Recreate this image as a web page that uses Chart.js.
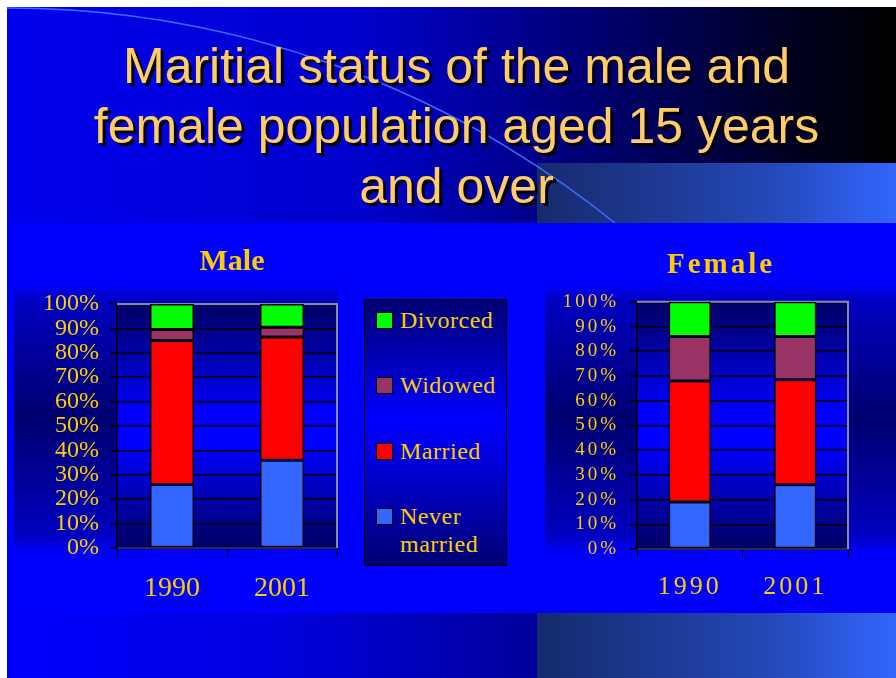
<!DOCTYPE html>
<html>
<head>
<meta charset="utf-8">
<title>Maritial status of the male and female population aged 15 years and over</title>
<script src="https://cdn.jsdelivr.net/npm/chart.js@4.4.0/dist/chart.umd.min.js"></script>
<style>
  html, body { margin: 0; padding: 0; }
  body { width: 896px; height: 678px; position: relative; overflow: hidden; background: #fff; }
  .bg { position: absolute; }
  #bandTop { left: 7px; top: 7px; width: 889px; height: 216px;
    background: linear-gradient(to right, #0000ee 0%, #0000cc 40%, #000080 62%, #000020 88%, #000 100%); }
  #rectTop { left: 537px; top: 163px; width: 359px; height: 60px;
    background: linear-gradient(to right, #172a6c, #2448b8 65%, #3366ff); }
  #arc { position: absolute; left: 0; top: 0; }
  #bandMid { left: 7px; top: 223px; width: 889px; height: 390px; background: #0000ff; }
  #shadeMale { left: 14px; top: 282px; width: 324px; height: 272px; }
  #shadeFemale { left: 545px; top: 282px; width: 351px; height: 272px; }
  .shade { background: linear-gradient(#0000ff 0%, #0000c0 7%, #000070 50%, #0000c0 93%, #0000ff 100%); }
  #bandBotLeft { left: 7px; top: 613px; width: 530px; height: 65px;
    background: linear-gradient(to right, #0000ff, #0000e0 50%, #00009a); }
  #bandBotRight { left: 537px; top: 613px; width: 359px; height: 65px;
    background: linear-gradient(to right, #142a6c, #2448b8 65%, #3366ff); }
  #title { position: absolute; left: 0; top: 36px; width: 913px; text-align: center;
    font: 50px/60px 'Liberation Sans', Arial, sans-serif; color: #ffcc66;
    text-shadow: 3px 3px 0 #000; }
  canvas { position: absolute; }
  #maleChart { left: 14px; top: 236px; }
  #femaleChart { left: 545px; top: 236px; }
  #legend { position: absolute; left: 364px; top: 299px; width: 141px; height: 265px;
    border: 1px solid #000;
    background: linear-gradient(#000074 0%, #0000e8 38%, #0000ff 45%, #0000d0 65%, #000074 100%); }
  .item { position: absolute; left: 11px; display: flex; align-items: flex-start; }
  .swatch { width: 15px; height: 15px; border: 1px solid #000; margin-top: 6px; }
  .label { margin-left: 7px; width: 100px; font: 24px/28px 'Liberation Serif', 'Times New Roman', serif;
    color: #ffcc00; letter-spacing: 0.5px; }
</style>
</head>
<body>
<div class="bg" id="bandTop"></div>
<div class="bg" id="rectTop"></div>
<svg id="arc" width="896" height="678">
  <path d="M 7 8 A 967 967 0 0 1 615 223" fill="none" stroke="#3a6cff" stroke-width="1.5"/>
</svg>
<div class="bg" id="bandMid"></div>
<div class="bg shade" id="shadeMale"></div>
<div class="bg shade" id="shadeFemale"></div>
<div class="bg" id="bandBotLeft"></div>
<div class="bg" id="bandBotRight"></div>
<div id="title">Maritial status of the male and<br>female population aged 15 years<br>and over</div>
<canvas id="maleChart" width="436" height="380"></canvas>
<canvas id="femaleChart" width="352" height="380"></canvas>
<div id="legend"></div>
<script>
const years = ['1990', '2001'];
const statuses = ['Never married', 'Married', 'Widowed', 'Divorced'];
const statusColors = ['#3366ff', '#ff0000', '#993366', '#00ff00'];

// percent of each group, per census year
const maleNeverMarried = [26, 36];
const maleMarried = [59, 50.5];
const maleWidowed = [4.5, 4];
const maleDivorced = [10.5, 9.5];

const femaleNeverMarried = [19, 26];
const femaleMarried = [49, 42.5];
const femaleWidowed = [18, 17.5];
const femaleDivorced = [14, 14];

const serif = "'Liberation Serif', 'Times New Roman', serif";
const gold = '#ffcc00';

function makeDatasets(values) {
  return statuses.map((s, i) => ({
    label: s,
    data: values[i],
    backgroundColor: statusColors[i],
    borderColor: '#000',
    borderWidth: 1.5,
    borderSkipped: false,
    barPercentage: 0.4,
    categoryPercentage: 1
  }));
}

// gradient plot background + grey top/right frame
const plotFrame = {
  id: 'plotFrame',
  beforeDraw(chart) {
    const { ctx, chartArea: a } = chart;
    const g = ctx.createLinearGradient(0, a.top, 0, a.bottom);
    g.addColorStop(0, '#000062');
    g.addColorStop(0.45, '#0000ff');
    g.addColorStop(0.58, '#0000ff');
    g.addColorStop(1, '#000062');
    ctx.save();
    ctx.fillStyle = g;
    ctx.fillRect(a.left, a.top, a.width, a.height);
    ctx.restore();
  },
  beforeDatasetsDraw(chart) {
    const { ctx, chartArea: a } = chart;
    ctx.save();
    ctx.strokeStyle = '#8a8a9a';
    ctx.lineWidth = 2;
    ctx.beginPath();
    ctx.moveTo(a.left, a.top);
    ctx.lineTo(a.right, a.top);
    ctx.lineTo(a.right, a.bottom);
    ctx.stroke();
    ctx.restore();
  }
};

// canvas letter spacing for the spaced-out labels
const spacing = {
  id: 'spacing',
  beforeUpdate(chart, args, opts) { chart.ctx.letterSpacing = (opts.px || 0) + 'px'; },
  beforeDraw(chart, args, opts) { chart.ctx.letterSpacing = (opts.px || 0) + 'px'; }
};

function makeChart(id, title, values, cfg) {
  return new Chart(document.getElementById(id), {
    type: 'bar',
    data: { labels: years, datasets: makeDatasets(values) },
    plugins: [spacing, plotFrame],
    options: {
      responsive: false,
      animation: false,
      layout: { padding: 0 },
      plugins: {
        legend: { display: false },
        tooltip: { enabled: false },
        spacing: { px: cfg.letterSpacing },
        title: {
          display: true,
          text: title,
          color: gold,
          font: { family: serif, size: cfg.titleSize, weight: 'bold' },
          padding: cfg.titlePadding
        }
      },
      scales: {
        x: {
          stacked: true,
          grid: { offset: true, drawOnChartArea: false, color: '#000', tickLength: 9 },
          border: { color: '#2a2a44', width: 2 },
          ticks: { color: gold, font: { family: serif, size: cfg.xSize }, padding: cfg.xPad },
          afterFit(s) { s.height = cfg.xHeight; }
        },
        y: {
          stacked: true,
          min: 0,
          max: 100,
          grid: { color: '#000', lineWidth: 1.5, tickLength: 7 },
          border: { color: '#000', width: 1.5 },
          ticks: {
            stepSize: 10,
            autoSkip: false,
            color: gold,
            font: { family: serif, size: cfg.ySize },
            padding: cfg.yPad,
            callback: v => v + '%'
          },
          afterFit(s) { s.width = cfg.yWidth; }
        },
        // empty room on the right of the plot
        spacer: {
          position: 'right',
          grid: { display: false },
          border: { display: false },
          ticks: { display: false },
          afterFit(s) { s.width = cfg.rightWidth; }
        }
      }
    }
  });
}

const maleChart = makeChart('maleChart', 'Male',
  [maleNeverMarried, maleMarried, maleWidowed, maleDivorced],
  { letterSpacing: 0, titleSize: 30, titlePadding: { top: 8, bottom: 24 },
    xSize: 28, xPad: 15, xHeight: 68, ySize: 24, yPad: 11, yWidth: 103, rightWidth: 113 });

const femaleChart = makeChart('femaleChart', 'Female',
  [femaleNeverMarried, femaleMarried, femaleWidowed, femaleDivorced],
  { letterSpacing: 3, titleSize: 29, titlePadding: { top: 12, bottom: 19 },
    xSize: 26, xPad: 14, xHeight: 67, ySize: 19, yPad: 11, yWidth: 92, rightWidth: 49 });

// legend box, top item first
const legend = document.getElementById('legend');
const itemTops = [6, 71, 137, 202];
maleChart.data.datasets.slice().reverse().forEach((ds, i) => {
  const item = document.createElement('div');
  item.className = 'item';
  item.style.top = itemTops[i] + 'px';
  const sw = document.createElement('div');
  sw.className = 'swatch';
  sw.style.background = ds.backgroundColor;
  const lab = document.createElement('div');
  lab.className = 'label';
  lab.textContent = ds.label;
  item.appendChild(sw);
  item.appendChild(lab);
  legend.appendChild(item);
});
</script>
</body>
</html>
